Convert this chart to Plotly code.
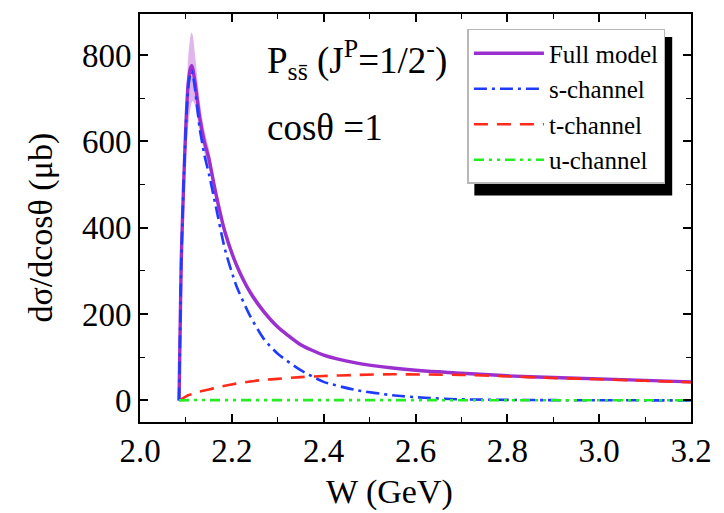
import plotly.graph_objects as go

# ---------------- data ----------------
W = [2.085, 2.0875, 2.090, 2.095, 2.100, 2.105, 2.110, 2.1125, 2.115, 2.120,
     2.125, 2.130, 2.140, 2.150, 2.165, 2.185, 2.21, 2.24, 2.27, 2.30,
     2.35, 2.40, 2.47, 2.55, 2.62, 2.70, 2.80, 2.90, 3.00, 3.10, 3.20]

full_model = [0, 170, 330, 500, 640, 735, 770, 775, 768, 735,
              695, 655, 600, 560, 480, 390, 314, 250, 205, 170,
              129, 105, 87, 75, 68, 63, 57, 53, 50, 46.5, 43]

band_hi = [0, 178, 345, 525, 675, 795, 845, 852, 845, 800,
           745, 695, 628, 584, 497, 403, 324, 259, 212, 176,
           133, 108, 89, 76.5, 69, 64, 58, 54, 51, 47.3, 43.8]

band_lo = [0, 150, 300, 455, 565, 635, 678, 690, 694, 682,
           652, 622, 575, 540, 465, 378, 305, 242, 199, 165,
           125, 102, 85, 73.5, 67, 62, 56, 52, 49, 45.7, 42.2]

s_channel = [0, 170, 330, 500, 635, 725, 758, 763, 755, 720,
             675, 630, 570, 525, 450, 350, 265, 195, 142, 108,
             70, 43, 24, 12, 6, 2.5, 1.2, 0.6, 0.3, 0.2, 0.1]

t_channel = [0, 1.5, 3, 6, 9, 12, 13.5, 14, 15, 17,
             19, 20.5, 23, 25.5, 29, 34, 39, 44, 47.5, 50,
             54, 56.5, 59, 60.5, 60, 59, 56, 52, 49, 45.5, 42]

u_channel = [0, 0.2, 0.3, 0.5, 0.6, 0.7, 0.8, 0.8, 0.8, 0.8,
             0.8, 0.8, 0.8, 0.8, 0.8, 0.7, 0.7, 0.6, 0.6, 0.6,
             0.5, 0.5, 0.5, 0.4, 0.4, 0.4, 0.3, 0.3, 0.3, 0.3, 0.3]

legend_names = ["Full model", "s-channel", "t-channel", "u-channel"]
x_ticks = [2.0, 2.2, 2.4, 2.6, 2.8, 3.0, 3.2]
y_ticks = [0, 200, 400, 600, 800]

FONT = "Liberation Serif"
PURPLE = "#9B30CF"
BLUE = "#1F3BFF"
RED = "#FF2A1A"
GREEN = "#22EE22"
SM = 0.6

# plot area in pixels (for placing paper-referenced decorations)
L, R, T, B = 140, 697, 13, 422
def px_x(p):
    return (p - L) / (R - L)
def px_y(p):
    return (B - p) / (B - T)

fig = go.Figure()

# uncertainty band
fig.add_trace(go.Scatter(x=W, y=band_lo, mode="lines",
                         line=dict(width=0, color="rgba(0,0,0,0)", shape="spline", smoothing=SM),
                         showlegend=False, hoverinfo="skip"))
fig.add_trace(go.Scatter(x=W, y=band_hi, mode="lines",
                         line=dict(width=0, color="rgba(0,0,0,0)", shape="spline", smoothing=SM),
                         fill="tonexty", fillcolor="rgba(212,152,232,0.72)",
                         showlegend=False, hoverinfo="skip"))

fig.add_trace(go.Scatter(x=W, y=full_model, mode="lines", name=legend_names[0], legendrank=1,
                         line=dict(color=PURPLE, width=3.4, shape="spline", smoothing=SM)))
fig.add_trace(go.Scatter(x=W, y=t_channel, mode="lines", name=legend_names[2], legendrank=3,
                         line=dict(color=RED, width=2.6, dash="14px,9px", shape="spline", smoothing=SM)))
fig.add_trace(go.Scatter(x=W, y=s_channel, mode="lines", name=legend_names[1], legendrank=2,
                         line=dict(color=BLUE, width=2.6, dash="13px,5px,3px,5px", shape="spline", smoothing=SM)))
fig.add_trace(go.Scatter(x=W, y=u_channel, mode="lines", name=legend_names[3], legendrank=4,
                         line=dict(color=GREEN, width=2.6, dash="10px,5px,3px,5px,3px,5px")))

axis_common = dict(
    showline=True, linecolor="black", linewidth=2, mirror="allticks",
    ticks="inside", ticklen=8, tickwidth=1.6, tickcolor="black",
    showgrid=False, zeroline=False,
    tickfont=dict(family=FONT, size=33, color="black"),
)

fig.update_xaxes(range=[2.0, 3.2], tickvals=x_ticks, tickformat=".1f", ticklabelstandoff=-2,
                 minor=dict(dtick=0.1, ticks="inside", ticklen=5, tickwidth=1.4, tickcolor="black"),
                 **axis_common)
fig.update_yaxes(range=[-50, 895], tickvals=y_ticks,
                 minor=dict(dtick=100, ticks="inside", ticklen=5, tickwidth=1.4, tickcolor="black"),
                 **axis_common)

# legend shadow (offset ~7 px right/down from the legend box)
fig.add_shape(type="rect", xref="paper", yref="paper",
              x0=px_x(478), x1=px_x(678), y0=px_y(195), y1=px_y(36),
              fillcolor="black", line=dict(width=0), layer="above")

fig.add_annotation(text="P<sub>ss\u0304</sub> (J<sup>P</sup>=1/2<sup>-</sup>)",
                   xref="paper", yref="paper", x=0.226, y=0.888, xanchor="left", yanchor="middle",
                   showarrow=False, font=dict(family=FONT, size=37, color="black"))
fig.add_annotation(text="cos\u03b8 =1",
                   xref="paper", yref="paper", x=0.226, y=0.721, xanchor="left", yanchor="middle",
                   showarrow=False, font=dict(family=FONT, size=37, color="black"))

# axis titles
fig.add_annotation(text="W (GeV)", xref="paper", yref="paper",
                   x=px_x(392), y=px_y(492), xanchor="center", yanchor="middle",
                   showarrow=False, font=dict(family=FONT, size=34, color="black"))
fig.add_annotation(text="d\u03c3/dcos\u03b8 (\u03bcb)", xref="paper", yref="paper",
                   x=px_x(40), y=px_y(227), xanchor="center", yanchor="middle",
                   textangle=-90, showarrow=False, font=dict(family=FONT, size=34, color="black"))

fig.update_layout(
    width=724, height=513,
    margin=dict(l=L, r=724 - R, t=T, b=513 - B),
    paper_bgcolor="white", plot_bgcolor="white",
    showlegend=True,
    legend=dict(x=px_x(471), y=px_y(28), xanchor="left", yanchor="top",
                traceorder="normal",
                bgcolor="white", bordercolor="#B8B8B8", borderwidth=1.5,
                font=dict(family=FONT, size=25, color="black"),
                itemwidth=70, tracegroupgap=0),
)

fig.write_html("out.html")
